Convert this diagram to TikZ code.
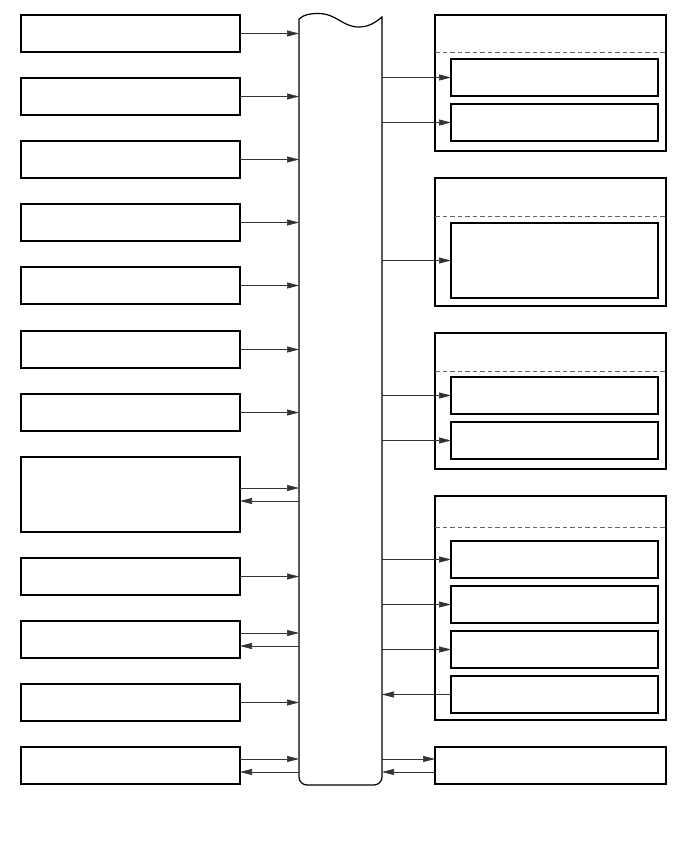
\documentclass[tikz,border=0pt]{standalone}
\usetikzlibrary{arrows.meta}
\begin{document}
\begin{tikzpicture}[x=1pt,y=-1pt,
  box/.style={draw,line width=1.2pt,inner sep=0pt,outer sep=0pt,anchor=north west},
  arr/.style={line width=0.7pt,draw=black!80,-{Triangle[length=12pt,width=6pt]}},
  sep/.style={draw=black!60,line width=0.9pt,dash pattern=on 4.5pt off 3pt}]
\useasboundingbox (0,0) rectangle (688,852);
% left boxes
\foreach \n/\t/\h in {1/15/37,2/78/37,3/141/37,4/204/37,5/267/37,6/331/37,7/394/37,8/457/75,9/558/37,10/621/37,11/684/37,12/747/37}
  \node[box,minimum width=219pt,minimum height=\h pt] (l\n) at (21,\t) {};
% central bar
\node[inner sep=0pt,outer sep=0pt,minimum width=83pt,minimum height=770pt,anchor=north west] (bar) at (299,15) {};
\draw[line width=1.2pt] (299,19) .. controls (304,14.5) and (310,13.5) .. (318,13.5)
  .. controls (337,13.5) and (342,27) .. (359,27)
  .. controls (369,27) and (376,22) .. (382,17)
  [rounded corners=8pt] -- (382,785) -- (299,785) -- (299,19);
% right groups
\node[box,minimum width=231pt,minimum height=136pt] (g1) at (435,15) {};
\node[box,minimum width=207pt,minimum height=37pt] (g1a) at (451,59) {};
\node[box,minimum width=207pt,minimum height=37pt] (g1b) at (451,104) {};
\draw[sep] (g1.west |- 0,52) -- (g1.east |- 0,52);
\node[box,minimum width=231pt,minimum height=128pt] (g2) at (435,178) {};
\node[box,minimum width=207pt,minimum height=75pt] (g2a) at (451,223) {};
\draw[sep] (g2.west |- 0,216) -- (g2.east |- 0,216);
\node[box,minimum width=231pt,minimum height=136pt] (g3) at (435,333) {};
\node[box,minimum width=207pt,minimum height=37pt] (g3a) at (451,377) {};
\node[box,minimum width=207pt,minimum height=37pt] (g3b) at (451,422) {};
\draw[sep] (g3.west |- 0,371) -- (g3.east |- 0,371);
\node[box,minimum width=231pt,minimum height=224pt] (g4) at (435,496) {};
\node[box,minimum width=207pt,minimum height=37pt] (g4a) at (451,541) {};
\node[box,minimum width=207pt,minimum height=37pt] (g4b) at (451,586) {};
\node[box,minimum width=207pt,minimum height=37pt] (g4c) at (451,631) {};
\node[box,minimum width=207pt,minimum height=37pt] (g4d) at (451,676) {};
\draw[sep] (g4.west |- 0,527) -- (g4.east |- 0,527);
\node[box,minimum width=231pt,minimum height=37pt] (r5) at (435,747) {};
% left arrows
\foreach \n in {1,2,3,4,5,6,7,9,11}
  \draw[arr] (l\n.east) -- (bar.west |- l\n.east);
\foreach \n in {8,10,12}{
  \coordinate (u\n) at ([yshift=6.5pt]l\n.east);
  \coordinate (d\n) at ([yshift=-6.5pt]l\n.east);
  \draw[arr] (u\n) -- (bar.west |- u\n);
  \draw[arr] (bar.west |- d\n) -- (d\n);
}
% right arrows
\foreach \n in {g1a,g1b,g2a,g3a,g3b,g4a,g4b,g4c}
  \draw[arr] (bar.east |- \n.west) -- (\n.west);
\draw[arr] (g4d.west) -- (bar.east |- g4d.west);
\coordinate (ur) at ([yshift=6.5pt]r5.west);
\coordinate (dr) at ([yshift=-6.5pt]r5.west);
\draw[arr] (bar.east |- ur) -- (ur);
\draw[arr] (dr) -- (bar.east |- dr);
\end{tikzpicture}
\end{document}
